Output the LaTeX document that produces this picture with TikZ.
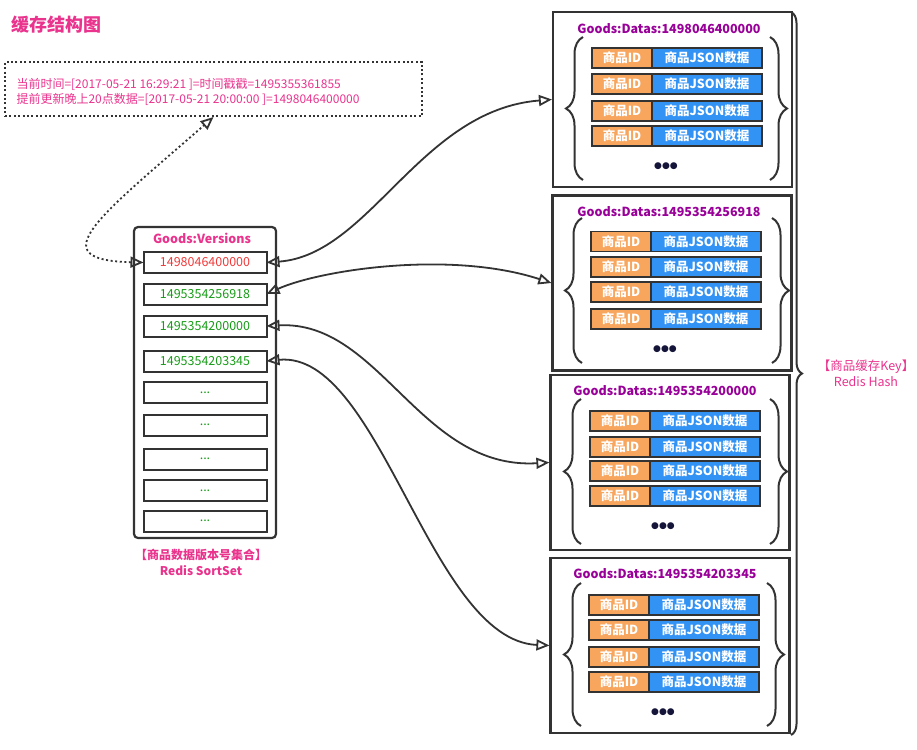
\documentclass[tikz,border=0pt]{standalone}
\usepackage{fontspec}
\setmainfont{Noto Sans CJK SC}
\newfontfamily\dejavu{DejaVu Sans}
\usepackage{xcolor}
\usepackage{tikz}
\usetikzlibrary{positioning,arrows.meta,decorations.pathreplacing}
\definecolor{pinktext}{HTML}{E9338D}
\definecolor{purpletext}{HTML}{990099}
\definecolor{redtext}{HTML}{F03A3A}
\definecolor{greentext}{HTML}{179C17}
\definecolor{linegray}{HTML}{333333}
\definecolor{idorange}{HTML}{F8A65E}
\definecolor{jsonblue}{HTML}{3393F5}
\definecolor{dotnavy}{HTML}{15153A}
\tikzstyle{note} = [rectangle, draw=linegray, line width=2pt, dash pattern=on 2pt off 2.4pt, minimum width=417pt, minimum height=54pt]
\tikzstyle{versionset} = [rectangle, rounded corners=4pt, draw=linegray, line width=2.2pt, minimum width=142pt, minimum height=311pt]
\tikzstyle{version} = [rectangle, draw=linegray, line width=2pt, minimum width=123pt, minimum height=21pt, inner sep=0pt, outer sep=0pt, text=greentext, font=\fontsize{12.5}{12.5}\selectfont]
\tikzstyle{datas} = [rectangle, draw=linegray, line width=2.2pt, minimum width=239pt, minimum height=175pt]
\tikzstyle{datatitle} = [text=purpletext, font=\bfseries\fontsize{12.5}{12.5}\selectfont]
\tikzstyle{goodsid} = [rectangle, draw=linegray, fill=idorange, line width=1.8pt, minimum width=60pt, minimum height=20pt, inner sep=0pt, outer sep=0pt, text=white, font=\bfseries\fontsize{12.5}{12.5}\selectfont]
\tikzstyle{goodsjson} = [goodsid, fill=jsonblue, minimum width=110pt]
\tikzstyle{more} = [text=dotnavy, font=\dejavu\fontsize{9}{9}\selectfont]
\tikzstyle{curly} = [draw=linegray, line width=2pt, decorate, decoration={brace, amplitude=17pt}]
\tikzstyle{arrow} = [line width=1.8pt, draw=linegray, {Triangle[open,length=13pt,width=11pt]}-{Triangle[open,length=13pt,width=11pt]}]
\tikzstyle{label} = [text=pinktext, align=center, font=\bfseries\fontsize{12}{16}\selectfont]
\begin{document}
\begin{tikzpicture}[x=1pt, y=-1pt]
    \useasboundingbox (0,0) rectangle (917,749);
    \node (title) [anchor=west, text=pinktext, font=\bfseries\fontsize{18}{18}\selectfont] at (8,25) {缓存结构图};
    % note about current time
    \node (note) [note] at (213.5,89) {};
    \node (notetext) [anchor=west, text=pinktext, align=left, font=\fontsize{12}{14.5}\selectfont] at (13,92) {当前时间=[2017-05-21 16:29:21 ]=时间戳戳=1495355361855\\提前更新晚上20点数据=[2017-05-21 20:00:00 ]=1498046400000};
    % version set
    \node (verset) [versionset] at (205,382.5) {};
    \node (vertitle) [text=pinktext, font=\bfseries\fontsize{12.5}{12.5}\selectfont] at (202,238) {Goods:Versions};
    \node (v1) [version, text=redtext] at (205,262.5) {1498046400000};
    \node (v2) [version] at (205,294) {1495354256918};
    \node (v3) [version] at (205,326) {1495354200000};
    \node (v4) [version] at (205,361) {1495354203345};
    \node (v5) [version] at (205,392.5) {...};
    \node (v6) [version] at (205,425) {...};
    \node (v7) [version] at (205,459) {...};
    \node (v8) [version] at (205,490.5) {...};
    \node (v9) [version] at (205,521) {...};
    \node (setlabel) [label] at (201,562) {【商品数据版本号集合】\\Redis SortSet};
    % data 1
    \node (data1) [datas] at (672.5,99.5) {};
    \node (dtitle1) [datatitle] at (669,29) {Goods:Datas:1498046400000};
    \node (id11) [goodsid] at (622,58) {商品ID};
    \node (json11) [goodsjson, right=0pt of id11] {商品JSON数据};
    \node (id12) [goodsid] at (622,84) {商品ID};
    \node (json12) [goodsjson, right=0pt of id12] {商品JSON数据};
    \node (id13) [goodsid] at (622,111) {商品ID};
    \node (json13) [goodsjson, right=0pt of id13] {商品JSON数据};
    \node (id14) [goodsid] at (622,136) {商品ID};
    \node (json14) [goodsjson, right=0pt of id14] {商品JSON数据};
    \node (more1) [more] at (666,166) {●●●};
    \draw [curly] (583,180) -- (583,37);
    \draw [curly] (770,37) -- (770,180);
    % data 2
    \node (data2) [datas] at (672,283) {};
    \node (dtitle2) [datatitle] at (669,212) {Goods:Datas:1495354256918};
    \node (id21) [goodsid] at (621,241.5) {商品ID};
    \node (json21) [goodsjson, right=0pt of id21] {商品JSON数据};
    \node (id22) [goodsid] at (621,267) {商品ID};
    \node (json22) [goodsjson, right=0pt of id22] {商品JSON数据};
    \node (id23) [goodsid] at (621,292) {商品ID};
    \node (json23) [goodsjson, right=0pt of id23] {商品JSON数据};
    \node (id24) [goodsid] at (621,319) {商品ID};
    \node (json24) [goodsjson, right=0pt of id24] {商品JSON数据};
    \node (more2) [more] at (665,349) {●●●};
    \draw [curly] (582,363) -- (582,218);
    \draw [curly] (772,218) -- (772,363);
    % data 3
    \node (data3) [datas] at (670,462.5) {};
    \node (dtitle3) [datatitle] at (665,391) {Goods:Datas:1495354200000};
    \node (id31) [goodsid] at (620,421) {商品ID};
    \node (json31) [goodsjson, right=0pt of id31] {商品JSON数据};
    \node (id32) [goodsid] at (620,447) {商品ID};
    \node (json32) [goodsjson, right=0pt of id32] {商品JSON数据};
    \node (id33) [goodsid] at (620,471) {商品ID};
    \node (json33) [goodsjson, right=0pt of id33] {商品JSON数据};
    \node (id34) [goodsid] at (620,496) {商品ID};
    \node (json34) [goodsjson, right=0pt of id34] {商品JSON数据};
    \node (more3) [more] at (663,526) {●●●};
    \draw [curly] (581,544) -- (581,399);
    \draw [curly] (770,399) -- (770,544);
    % data 4
    \node (data4) [datas] at (670,645.5) {};
    \node (dtitle4) [datatitle] at (665,574) {Goods:Datas:1495354203345};
    \node (id41) [goodsid] at (619,605) {商品ID};
    \node (json41) [goodsjson, right=0pt of id41] {商品JSON数据};
    \node (id42) [goodsid] at (619,630) {商品ID};
    \node (json42) [goodsjson, right=0pt of id42] {商品JSON数据};
    \node (id43) [goodsid] at (619,657) {商品ID};
    \node (json43) [goodsjson, right=0pt of id43] {商品JSON数据};
    \node (id44) [goodsid] at (619,682) {商品ID};
    \node (json44) [goodsjson, right=0pt of id44] {商品JSON数据};
    \node (more4) [more] at (663,712) {●●●};
    \draw [curly] (581,726) -- (581,583);
    \draw [curly] (767,583) -- (767,726);
    % redis hash
    \draw [curly, decoration={brace, amplitude=11pt}] (791,12) -- (791,735);
    \node (hashlabel) [label, font=\fontsize{12.5}{16}\selectfont] at (866,373) {【商品缓存Key】\\Redis Hash};
    % connectors
    \draw [arrow, dash pattern=on 2pt off 2.6pt] (v1.west) .. controls (40,260) and (99,217) .. (note.south);
    \draw [arrow] (v1.east) .. controls (370,255) and (420,110) .. (data1.west);
    \draw [arrow] (v2.east) .. controls (320,270) and (450,250) .. (data2.west);
    \draw [arrow] (v3.east) .. controls (380,320) and (420,470) .. (data3.west);
    \draw [arrow] (v4.east) .. controls (380,350) and (430,640) .. (data4.west);
\end{tikzpicture}
\end{document}
